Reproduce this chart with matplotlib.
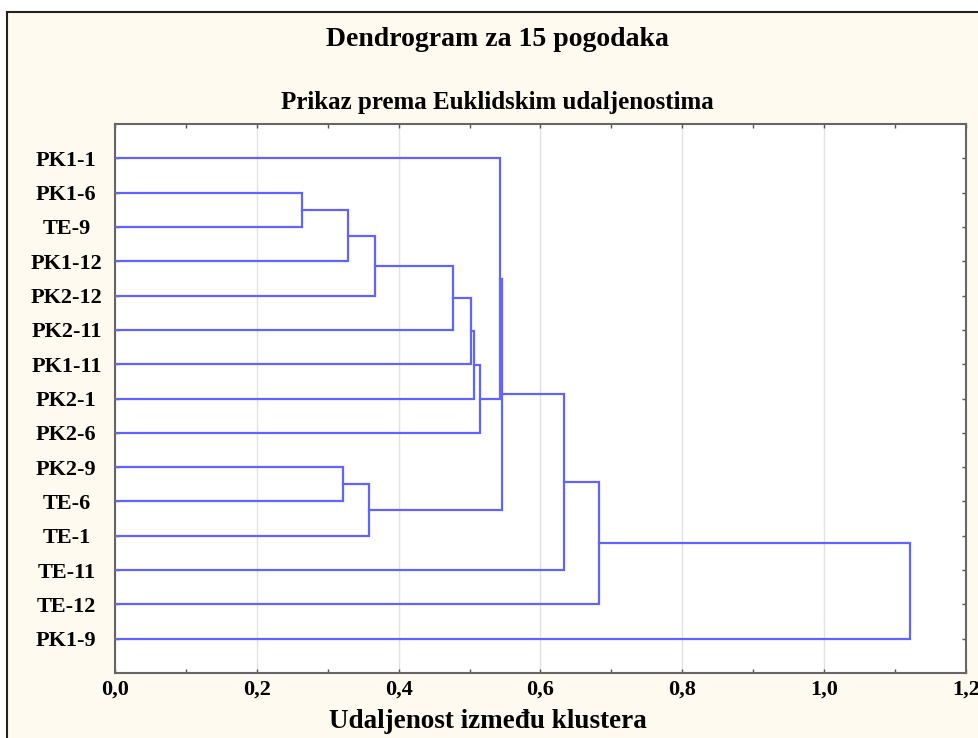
import matplotlib
matplotlib.use("Agg")
from matplotlib import pyplot as plt
from matplotlib.patches import Rectangle
import numpy as np

plt.rcParams['font.family'] = ['Liberation Serif', 'DejaVu Serif']
plt.rcParams['font.weight'] = 'bold'

# listovi (odozgo prema dolje)
leaves = ["PK1-1", "PK1-6", "TE-9", "PK1-12", "PK2-12", "PK2-11", "PK1-11",
          "PK2-1", "PK2-6", "PK2-9", "TE-6", "TE-1", "TE-11", "TE-12", "PK1-9"]

# spajanja: cvor 15+i nastaje od merge_a[i] i merge_b[i] na udaljenosti merge_h[i]
merge_a = [1, 15, 16, 17, 18, 19, 20, 9, 22, 0, 24, 25, 26, 27]
merge_b = [2, 3, 4, 5, 6, 7, 8, 10, 11, 21, 23, 12, 13, 14]
merge_h = [0.264, 0.3285, 0.367, 0.477, 0.5015, 0.506, 0.514,
           0.322, 0.358, 0.543, 0.546, 0.633, 0.6825, 1.121]

xticks = [0.0, 0.2, 0.4, 0.6, 0.8, 1.0, 1.2]
xticklabels = ["0,0", "0,2", "0,4", "0,6", "0,8", "1,0", "1,2"]

W, H = 979, 738
fig = plt.figure(figsize=(W / 100, H / 100), dpi=100, facecolor='white')

# okvir s krem pozadinom
fig.patches.append(Rectangle((7 / W, -0.1), 1.2, 1 - 12 / H + 0.1,
                             transform=fig.transFigure, facecolor='#fefaf0',
                             edgecolor='#222222', linewidth=1.5, zorder=-10))

ax = fig.add_axes([115 / W, 1 - 673 / H, 851 / W, 549 / H])
ax.set_facecolor('white')

# pozicije i visine cvorova
pos = {i: i + 1.0 for i in range(len(leaves))}
hgt = {i: 0.0 for i in range(len(leaves))}
for k, (a, b, h) in enumerate(zip(merge_a, merge_b, merge_h)):
    node = len(leaves) + k
    ax.plot([hgt[a], h, h, hgt[b]], [pos[a], pos[a], pos[b], pos[b]],
            color='#6363ff', linewidth=1.6, solid_joinstyle='miter', zorder=3)
    pos[node] = (pos[a] + pos[b]) / 2
    hgt[node] = h

ax.set_xlim(0, 1.2)
ax.set_ylim(16, 0)

ax.set_xticks(xticks)
ax.set_xticklabels(xticklabels, fontsize=16, fontweight='bold')
ax.set_xticks(np.arange(0.1, 1.2, 0.2), minor=True)
ax.set_yticks(np.arange(1, len(leaves) + 1))
ax.set_yticklabels(leaves, fontsize=16, fontweight='bold')
for lab in ax.get_yticklabels():
    lab.set_horizontalalignment('center')

ax.tick_params(axis='x', which='both', direction='in', top=True, length=3,
               width=1, color='#555555', pad=5)
ax.tick_params(axis='y', direction='in', right=True, length=3, width=1,
               color='#555555', pad=35)

ax.grid(axis='x', which='major', color='#e2e2e2', linewidth=1, zorder=1)
ax.set_axisbelow(True)
for s in ax.spines.values():
    s.set_color('#666666')
    s.set_linewidth(1.5)

fig.text(497 / W, 1 - 40 / H, "Dendrogram za 15 pogodaka", ha='center', va='center',
         fontsize=20, fontweight='bold')
fig.text(497 / W, 1 - 103 / H, "Prikaz prema Euklidskim udaljenostima", ha='center',
         va='center', fontsize=18, fontweight='bold')
fig.text(488 / W, 1 - 722 / H, "Udaljenost između klustera", ha='center',
         va='center', fontsize=19.5, fontweight='bold')

fig.savefig("out.png", dpi=100)
